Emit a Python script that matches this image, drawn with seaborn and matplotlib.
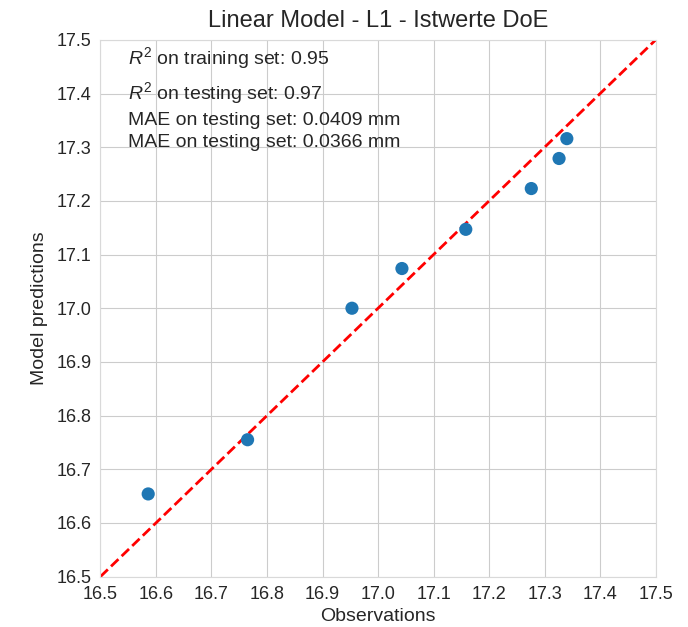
import matplotlib
matplotlib.use("Agg")
import matplotlib.pyplot as plt
import pandas as pd
import seaborn as sns

# valores
observaciones = [16.586, 16.765, 16.953, 17.043, 17.158, 17.276, 17.326, 17.340]
predicciones = [16.654, 16.755, 17.000, 17.074, 17.147, 17.223, 17.279, 17.316]
ticks = [16.5, 16.6, 16.7, 16.8, 16.9, 17.0, 17.1, 17.2, 17.3, 17.4, 17.5]
linea_ideal = [16.5, 17.5]

df = pd.DataFrame({"obs": observaciones, "pred": predicciones})

sns.set_style("whitegrid")
plt.rcParams["font.family"] = ["Liberation Sans", "DejaVu Sans"]
plt.rcParams["mathtext.fontset"] = "custom"
plt.rcParams["mathtext.it"] = "Liberation Sans:italic"
plt.rcParams["mathtext.rm"] = "Liberation Sans"

fig = plt.figure(figsize=(6.88, 6.27), dpi=100)
ax = fig.add_axes([0.146, 0.0804, 0.807, 0.856])

sns.scatterplot(x="obs", y="pred", data=df, s=90, color="#1f77b4",
                edgecolor="none", ax=ax, zorder=3)
sns.lineplot(x=linea_ideal, y=linea_ideal, color="red", linestyle="--",
             linewidth=2, ax=ax, zorder=2)

ax.set_xlim(16.5, 17.5)
ax.set_ylim(16.5, 17.5)
ax.set_xticks(ticks)
ax.set_yticks(ticks)
ax.set_xticklabels([f"{t:.1f}" for t in ticks])
ax.set_yticklabels([f"{t:.1f}" for t in ticks])
ax.tick_params(labelsize=13, colors=".15", pad=3)
for s in ax.spines.values():
    s.set_color(".85")

ax.set_xlabel("Observations", fontsize=14, color=".15", labelpad=4)
ax.set_ylabel("Model predictions", fontsize=14, color=".15", labelpad=6)
ax.set_title("Linear Model - L1 - Istwerte DoE", fontsize=17, color=".15", pad=9)

ax.text(16.55, 17.455, r"$R^2$ on training set: 0.95", fontsize=14, color=".15")
ax.text(16.55, 17.39, r"$R^2$ on testing set: 0.97", fontsize=14, color=".15")
ax.text(16.55, 17.341, "MAE on testing set: 0.0409 mm", fontsize=14, color=".15")
ax.text(16.55, 17.301, "MAE on testing set: 0.0366 mm", fontsize=14, color=".15")

plt.savefig("out.png", dpi=100)
